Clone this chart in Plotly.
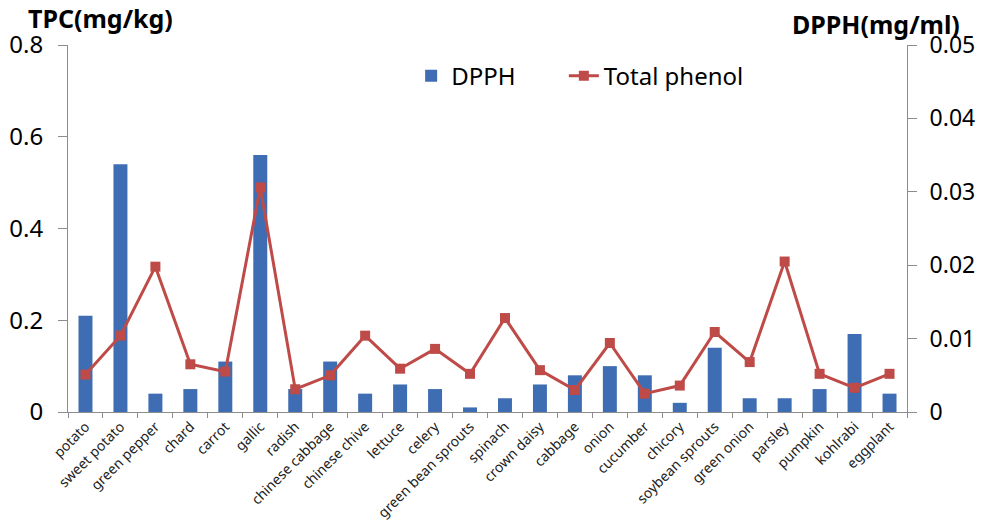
import plotly.graph_objects as go

categories = ["potato", "sweet potato", "green pepper", "chard", "carrot", "gallic", "radish",
              "chinese cabbage", "chinese chive", "lettuce", "celery", "green bean sprouts",
              "spinach", "crown daisy", "cabbage", "onion", "cucumber", "chicory",
              "soybean sprouts", "green onion", "parsley", "pumpkin", "kohlrabi", "eggplant"]
dpph = [0.21, 0.54, 0.04, 0.05, 0.11, 0.56, 0.05, 0.11, 0.04, 0.06, 0.05, 0.01,
        0.03, 0.06, 0.08, 0.10, 0.08, 0.02, 0.14, 0.03, 0.03, 0.05, 0.17, 0.04]
total_phenol = [0.0051, 0.0104, 0.0198, 0.0065, 0.0055, 0.0306, 0.0031, 0.0050, 0.0104,
                0.0059, 0.0086, 0.0052, 0.0128, 0.0057, 0.0030, 0.0094, 0.0025, 0.0036,
                0.0109, 0.0068, 0.0205, 0.0052, 0.0033, 0.0052]

FONT = "Noto Sans"
AX = "#8c8c8c"

fig = go.Figure()
fig.add_trace(go.Bar(x=categories, y=dpph, name="DPPH", marker=dict(color="#3F6DB3", line=dict(width=0)),
                     yaxis="y", legend="legend"))
fig.add_trace(go.Scatter(x=categories, y=total_phenol, name="Total phenol", mode="lines+markers",
                         line=dict(color="#BE4B48", width=3),
                         marker=dict(symbol="square", size=10, color="#BE4B48"),
                         yaxis="y2", legend="legend2"))

leg_common = dict(orientation="h", y=0.915, xanchor="left", yanchor="middle",
                  font=dict(size=24, family=FONT), bgcolor="rgba(0,0,0,0)", itemwidth=30)

fig.update_layout(
    width=984, height=532,
    margin=dict(l=68, r=77, t=45, b=120),
    paper_bgcolor="white", plot_bgcolor="white",
    font=dict(family=FONT, color="black"),
    bargap=0.6,
    showlegend=True,
    legend=dict(x=0.409, **leg_common),
    legend2=dict(x=0.591, **leg_common),
    xaxis=dict(type="category", range=[-0.5, len(categories) - 0.5], showgrid=False,
               showline=True, linecolor=AX, linewidth=1,
               ticks="outside", tickson="boundaries", ticklen=5, tickcolor=AX, automargin=False,
               tickangle=-45, tickfont=dict(size=14, family=FONT, color="#222")),
    yaxis=dict(range=[0, 0.8], dtick=0.2, showgrid=False, zeroline=False, showline=True,
               linecolor=AX, linewidth=1, ticks="outside", ticklen=9, tickcolor=AX, automargin=False,
               ticklabelstandoff=10, tickfont=dict(size=24, family=FONT)),
    yaxis2=dict(range=[0, 0.05], dtick=0.01, overlaying="y", side="right", showgrid=False,
                zeroline=False, showline=True, linecolor=AX, linewidth=1, ticks="outside",
                automargin=False, ticklabelstandoff=8,
                ticklen=9, tickcolor=AX, tickfont=dict(size=23, family=FONT)),
    annotations=[
        dict(text="<b>TPC(mg/kg)</b>", xref="paper", yref="paper", x=-0.05, y=1.0,
             xanchor="left", yanchor="bottom", yshift=8, showarrow=False, font=dict(size=25, family=FONT)),
        dict(text="<b>DPPH(mg/ml)</b>", xref="paper", yref="paper", x=1.0656, y=1.0,
             xanchor="right", yanchor="bottom", yshift=2, showarrow=False, font=dict(size=25, family=FONT)),
    ],
)

fig.write_html("out.html", config={"displayModeBar": False},
               post_script="document.body.style.margin='0';document.body.style.padding='0';")
